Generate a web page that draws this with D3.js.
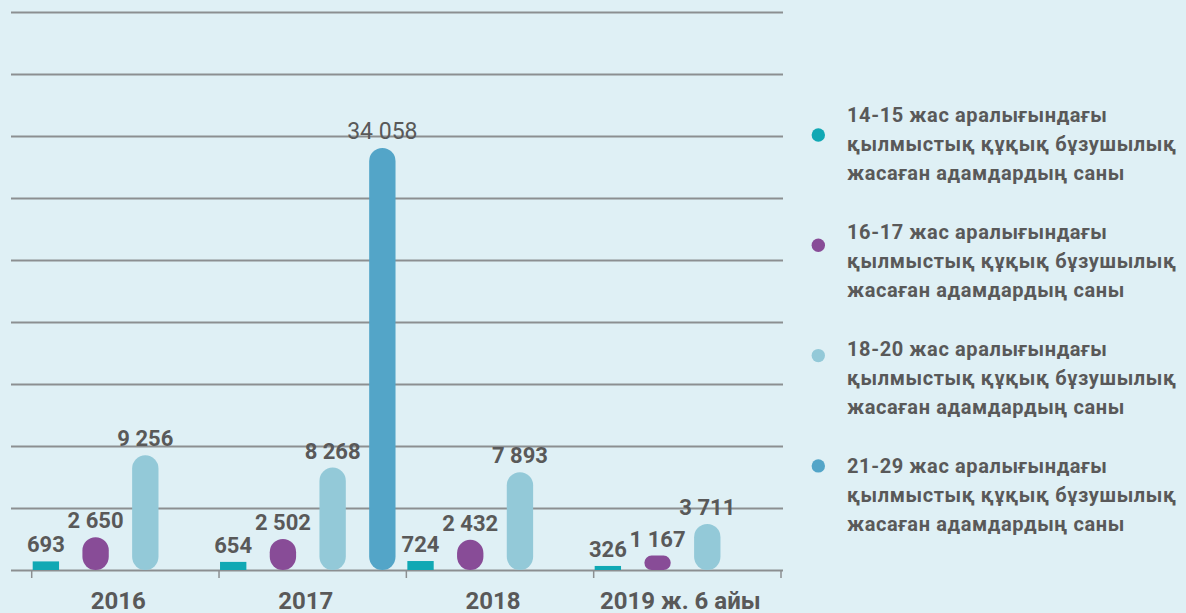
<!DOCTYPE html>
<html>
<head>
<meta charset="utf-8">
<script src="https://cdn.jsdelivr.net/npm/d3@7"></script>
<style>
  html, body { margin: 0; padding: 0; background: #dff0f5; }
  svg { display: block; font-family: Roboto, "Noto Sans", sans-serif; }
</style>
</head>
<body>
<svg id="chart" width="1186" height="613"></svg>
<script>
// Categories (years) and the four age groups
const years = ["2016", "2017", "2018", "2019 ж. 6 айы"];
const ageGroups = ["14-15", "16-17", "18-20", "21-29"];
const legendLines = [
  ["14-15 жас аралығындағы", "қылмыстық құқық бұзушылық", "жасаған адамдардың саны"],
  ["16-17 жас аралығындағы", "қылмыстық құқық бұзушылық", "жасаған адамдардың саны"],
  ["18-20 жас аралығындағы", "қылмыстық құқық бұзушылық", "жасаған адамдардың саны"],
  ["21-29 жас аралығындағы", "қылмыстық құқық бұзушылық", "жасаған адамдардың саны"]
];

// Number of people per age group and year (null = not reported)
const values1415 = [693, 654, 724, 326];
const values1617 = [2650, 2502, 2432, 1167];
const values1820 = [9256, 8268, 7893, 3711];
const values2129 = [null, 34058, null, null];

const seriesValues = [values1415, values1617, values1820, values2129];
const colors = ["#10a8b4", "#884c97", "#93c9d8", "#53a5c8"];

const svg = d3.select("#chart");
const fmt = v => d3.format(",")(v).replace(/,/g, " ");

// Scales
const x0 = d3.scaleBand().domain(years).range([31.7, 781]).paddingInner(0).paddingOuter(0);
const x1 = d3.scaleBand().domain(ageGroups).range([1, 176.5]).paddingInner(0.47).paddingOuter(0);
const y = d3.scaleLinear().domain([0, 45000]).range([570, 12.3]);

// Horizontal grid lines
svg.append("g")
  .selectAll("line")
  .data(y.ticks(9))
  .join("line")
  .attr("x1", 11).attr("x2", 783)
  .attr("y1", d => Math.round(y(d)) + 0.5).attr("y2", d => Math.round(y(d)) + 0.5)
  .attr("stroke", "#8c8f91").attr("stroke-width", 2);

// Category ticks along the baseline
const tickPos = years.map(yr => x0(yr)).concat([x0.range()[1]]);
svg.append("g")
  .selectAll("line")
  .data(tickPos)
  .join("line")
  .attr("x1", d => d).attr("x2", d => d)
  .attr("y1", 570).attr("y2", 578)
  .attr("stroke", "#8c8f91").attr("stroke-width", 1.5);

// Bars
const bars = [];
years.forEach((yr, i) => {
  ageGroups.forEach((g, s) => {
    const v = seriesValues[s][i];
    if (v != null) bars.push({ year: yr, group: g, s, value: v });
  });
});

const bw = x1.bandwidth();
const barG = svg.append("g");
barG.selectAll("rect")
  .data(bars)
  .join("rect")
  .attr("x", d => x0(d.year) + x1(d.group))
  .attr("y", d => y(d.value))
  .attr("width", bw)
  .attr("height", d => y(0) - y(d.value))
  .attr("rx", d => d.s === 0 ? 0 : Math.min(bw / 2, (y(0) - y(d.value)) / 2))
  .attr("fill", d => colors[d.s]);

// Value labels
barG.selectAll("text")
  .data(bars)
  .join("text")
  .attr("x", d => x0(d.year) + x1(d.group) + bw / 2)
  .attr("y", d => y(d.value) - 9)
  .attr("text-anchor", "middle")
  .attr("font-size", d => d.s === 3 ? 23 : 22)
  .attr("font-weight", d => d.s === 3 ? 400 : 700)
  .attr("fill", "#595959")
  .text(d => fmt(d.value));

// Category labels
svg.append("g")
  .selectAll("text")
  .data(years)
  .join("text")
  .attr("x", d => x0(d) + x0.bandwidth() / 2 - 7)
  .attr("y", 608.5)
  .attr("text-anchor", "middle")
  .attr("font-size", 24)
  .attr("font-weight", 700)
  .attr("fill", "#595959")
  .text(d => d);

// Legend
const legend = svg.append("g");
ageGroups.forEach((g, i) => {
  legend.append("circle")
    .attr("cx", 818.3)
    .attr("cy", 135 + i * 110.3)
    .attr("r", 6.7)
    .attr("fill", colors[i]);
  const t = legend.append("text")
    .attr("x", 847)
    .attr("y", 121.7 + i * 117.2)
    .attr("font-size", 20)
    .attr("font-weight", 700)
    .attr("letter-spacing", 0.6)
    .attr("fill", "#595959");
  legendLines[i].forEach((line, k) => {
    t.append("tspan").attr("x", 847).attr("dy", k === 0 ? 0 : 29).text(line);
  });
});
</script>
</body>
</html>
